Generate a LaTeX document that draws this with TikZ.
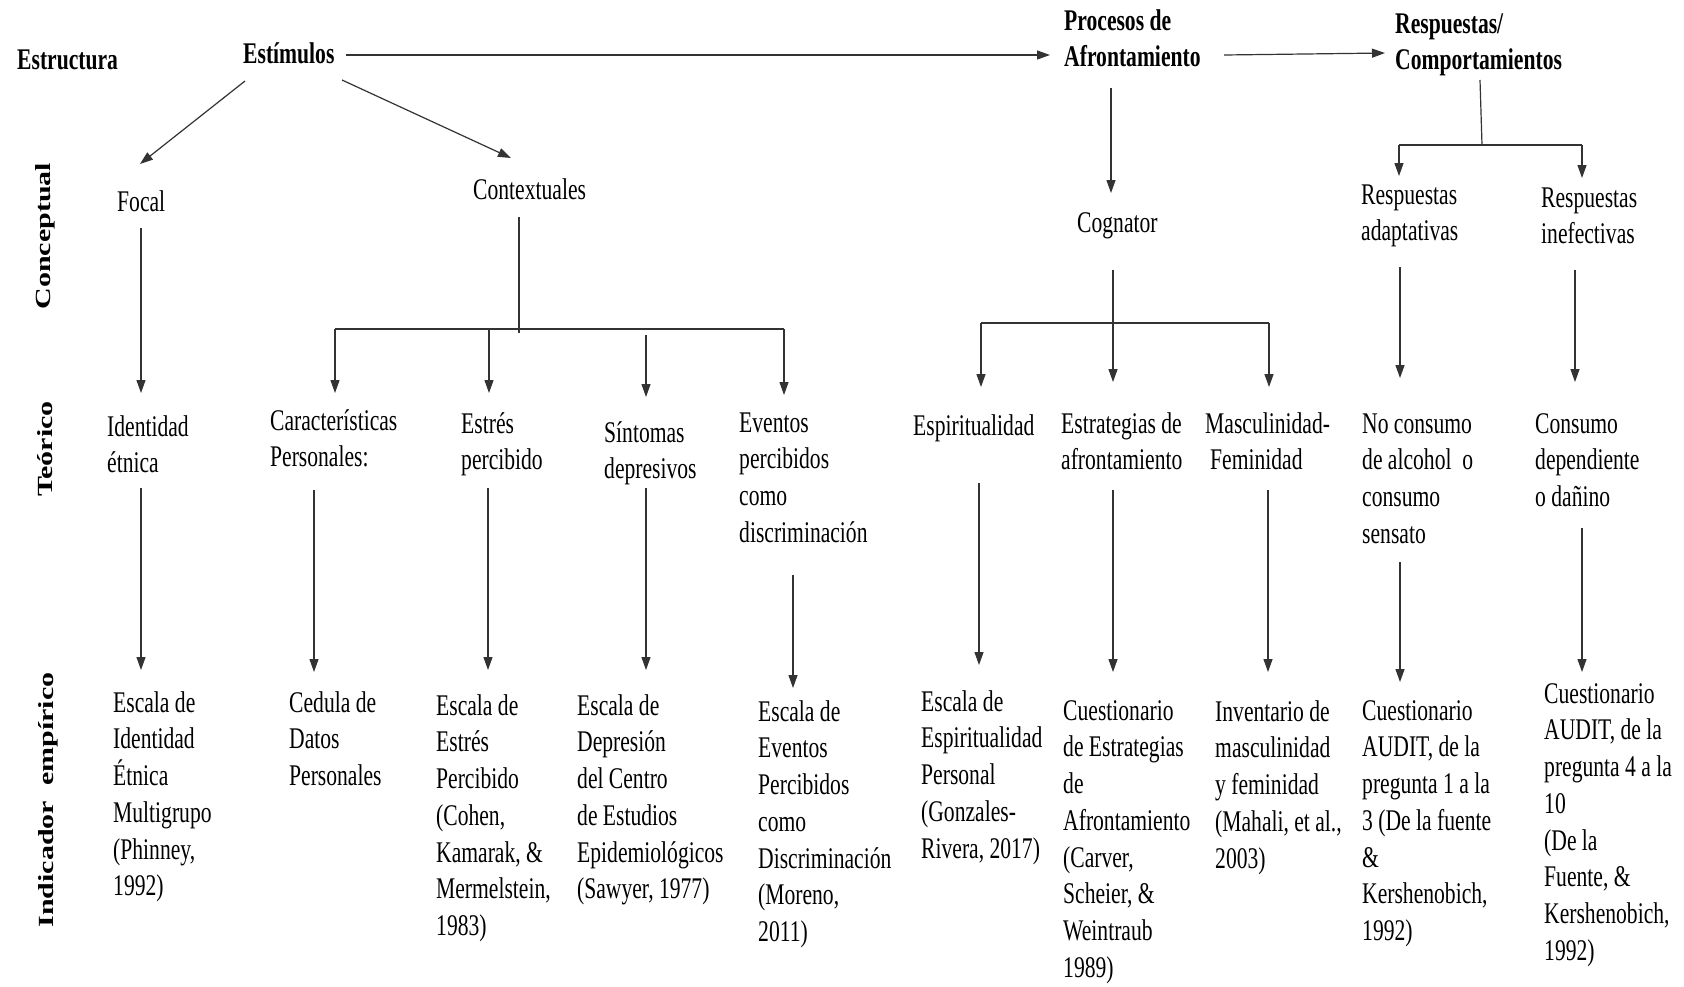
\documentclass[tikz,border=0pt]{standalone}
\usepackage{fontspec}
\setmainfont{Liberation Serif}[FakeStretch=0.72]
\newfontfamily\sidef{Liberation Serif}
\usetikzlibrary{arrows.meta}
\newcommand\tf{\fontsize{30}{36.7}\selectfont}
\tikzset{
  txt/.style={anchor=north west, inner sep=0pt, align=left, font=\tf, yshift=25.7pt},
  hd/.style={txt, font=\tf\bfseries},
  side/.style={rotate=90, inner sep=0pt, font=\sidef\fontsize{30}{36}\selectfont},
  ln/.style={draw=black!80, line width=1.2pt},
  arr/.style={ln, -{Triangle[width=9pt,length=13pt]}}
}
\begin{document}
\begin{tikzpicture}[x=1pt,y=-1pt]
\useasboundingbox[fill=white] (0,0) rectangle (1684,986);

% side labels
\node[side] (sConc) at (45,236) {\scalebox{1}[0.72]{\bfseries Conceptual}};
\node[side] (sTeo) at (45,449) {\scalebox{1}[0.72]{\bfseries Teórico}};
\node[side] (sInd) at (48,800) {\scalebox{1}[0.72]{\bfseries Indicador\hspace{15pt}empírico}};

% headings
\node[hd] (estr) at (17,69) {\strut Estructura};
\node[hd] (estim) at (243,63) {\strut Estímulos};
\node[hd] (proc) at (1064,30) {\strut Procesos de\\Afrontamiento};
\node[hd] (resp) at (1395,33) {\strut Respuestas/\\Comportamientos};

% conceptual
\node[txt] (focal) at (117,211) {\strut Focal};
\node[txt] (context) at (473,199) {\strut Contextuales};
\node[txt] (cogn) at (1077,232) {\strut Cognator};
\node[txt] (radapt) at (1361,204) {\strut Respuestas\\adaptativas};
\node[txt] (rinef) at (1541,207) {\strut Respuestas\\inefectivas};

% teorico
\node[txt] (ident) at (107,436) {\strut Identidad\\étnica};
\node[txt] (caract) at (270,430) {\strut Características\\Personales:};
\node[txt] (estres) at (461,433) {\strut Estrés\\percibido};
\node[txt] (sint) at (604,442) {\strut Síntomas\\depresivos};
\node[txt] (event) at (739,432) {\strut Eventos\\percibidos\\como\\discriminación};
\node[txt] (espir) at (913,435) {\strut Espiritualidad};
\node[txt] (estrat) at (1061,433) {\strut Estrategias de\\afrontamiento};
\node[txt] (masc) at (1205,433) {\strut Masculinidad-\\\hspace{5pt}Feminidad};
\node[txt] (nocons) at (1362,433) {\strut No consumo\\de alcohol\ \ o\\consumo\\sensato};
\node[txt] (cons) at (1535,433) {\strut Consumo\\dependiente\\o dañino};

% indicador empirico
\node[txt] (i1) at (113,712) {\strut Escala de\\Identidad\\Étnica\\Multigrupo\\(Phinney,\\1992)};
\node[txt] (i2) at (289,712) {\strut Cedula de\\Datos\\Personales};
\node[txt] (i3) at (436,715) {\strut Escala de\\Estrés\\Percibido\\(Cohen,\\Kamarak, \&\\Mermelstein,\\1983)};
\node[txt] (i4) at (577,715) {\strut Escala de\\Depresión\\del Centro\\de Estudios\\Epidemiológicos\\(Sawyer, 1977)};
\node[txt] (i5) at (758,721) {\strut Escala de\\Eventos\\Percibidos\\como\\Discriminación\\(Moreno,\\2011)};
\node[txt] (i6) at (921,711) {\strut Escala de\\Espiritualidad\\Personal\\(Gonzales-\\Rivera, 2017)};
\node[txt] (i7) at (1063,720) {\strut Cuestionario\\de Estrategias\\de\\Afrontamiento\\(Carver,\\Scheier, \&\\Weintraub\\1989)};
\node[txt] (i8) at (1215,721) {\strut Inventario de\\masculinidad\\y feminidad\\(Mahali, et al.,\\2003)};
\node[txt] (i9) at (1362,720) {\strut Cuestionario\\AUDIT, de la\\pregunta 1 a la\\3 (De la fuente\\\&\\Kershenobich,\\1992)};
\node[txt] (i10) at (1544,703) {\strut Cuestionario\\AUDIT, de la\\pregunta 4 a la\\10\\(De la\\Fuente, \&\\Kershenobich,\\1992)};

% top connectors
\draw[arr] (346,55) coordinate (estimOut) -- (1050,55) coordinate (procIn);
\draw[arr] (1224,55) coordinate (procOut) -- (1385,53) coordinate (respIn);
\draw[arr] (245,81) coordinate (estimA) -- (140,164) coordinate (focalIn);
\draw[arr] (342,80) coordinate (estimB) -- (511,158) coordinate (contextIn);

% focal
\draw[arr] (141,228) coordinate (focalOut) -- (141,393) coordinate (identIn);

% contextuales tree
\draw[ln] (519,217) coordinate (contextOut) -- (519,333) coordinate (contextJ);
\draw[ln] (335,329) coordinate (barL) -- (784,329) coordinate (barR);
\draw[arr] (barL) -- (335,393) coordinate (caractIn);
\draw[arr] (489,329) coordinate (barE) -- (489,393) coordinate (estresIn);
\draw[arr] (646,335) coordinate (barS) -- (646,397) coordinate (sintIn);
\draw[arr] (barR) -- (784,395) coordinate (eventIn);

% cognator tree
\draw[arr] (1111,88) coordinate (procDown) -- (1111,193) coordinate (cognIn);
\draw[arr] (1113,270) coordinate (cognOut) -- (1113,382) coordinate (estratIn);
\draw[ln] (981,323) coordinate (cbarL) -- (1269,323) coordinate (cbarR);
\draw[arr] (cbarL) -- (981,387) coordinate (espirIn);
\draw[arr] (cbarR) -- (1269,387) coordinate (mascIn);

% respuestas tree
\draw[ln] (1480,80) coordinate (respDown) -- (1482,145) coordinate (rJ);
\draw[ln] (1399,145) coordinate (rbarL) -- (1582,145) coordinate (rbarR);
\draw[arr] (rbarL) -- (1399,176) coordinate (radaptIn);
\draw[arr] (rbarR) -- (1582,178) coordinate (rinefIn);
\draw[arr] (1400,267) coordinate (radaptOut) -- (1400,378) coordinate (noconsIn);
\draw[arr] (1575,270) coordinate (rinefOut) -- (1575,382) coordinate (consIn);

% teorico -> indicador
\draw[arr] (141,488) coordinate (identOut) -- (141,670) coordinate (i1In);
\draw[arr] (314,490) coordinate (caractOut) -- (314,672) coordinate (i2In);
\draw[arr] (488,488) coordinate (estresOut) -- (488,670) coordinate (i3In);
\draw[arr] (646,488) coordinate (sintOut) -- (646,670) coordinate (i4In);
\draw[arr] (793,575) coordinate (eventOut) -- (793,688) coordinate (i5In);
\draw[arr] (979,483) coordinate (espirOut) -- (979,665) coordinate (i6In);
\draw[arr] (1113,490) coordinate (estratOut) -- (1113,672) coordinate (i7In);
\draw[arr] (1268,490) coordinate (mascOut) -- (1268,672) coordinate (i8In);
\draw[arr] (1400,562) coordinate (noconsOut) -- (1400,682) coordinate (i9In);
\draw[arr] (1582,528) coordinate (consOut) -- (1582,672) coordinate (i10In);
\end{tikzpicture}
\end{document}
